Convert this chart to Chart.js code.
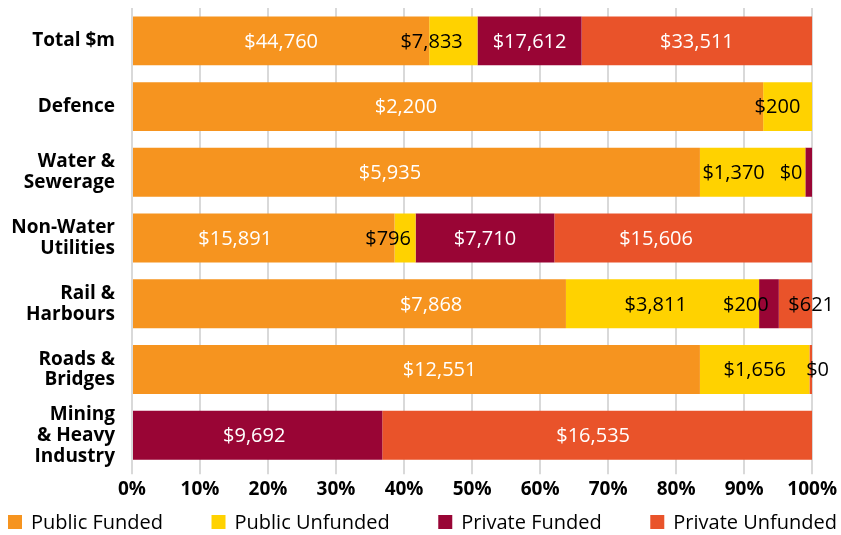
<!DOCTYPE html>
<html>
<head>
<meta charset="utf-8">
<script src="https://cdn.jsdelivr.net/npm/chart.js@4"></script>
<style>
  html, body { margin: 0; padding: 0; background: #fff; }
  #wrap { width: 841px; height: 535px; }
</style>
</head>
<body>
<div id="wrap"><canvas id="myChart" width="841" height="535"></canvas></div>
<script>
// categorias (multilinea como en el original)
const categories = [
    ['Total $m'],
    ['Defence'],
    ['Water &', 'Sewerage'],
    ['Non-Water', 'Utilities'],
    ['Rail &', 'Harbours'],
    ['Roads &', 'Bridges'],
    ['Mining', '& Heavy', 'Industry'],
]
const seriesNames = ['Public Funded', 'Public Unfunded', 'Private Funded', 'Private Unfunded']

// porcentaje de cada barra
const publicFunded    = [43.7, 92.8, 83.5, 38.6, 63.8, 83.5, 0]
const publicUnfunded  = [7.1, 7.2, 15.5, 3.1, 28.4, 16.1, 0]
const privateFunded   = [15.3, 0, 1.0, 20.4, 2.9, 0, 36.8]
const privateUnfunded = [33.9, 0, 0, 37.9, 4.9, 0.4, 63.2]

// etiquetas en dolares ($m)
const publicFundedLabels    = ['$44,760', '$2,200', '$5,935', '$15,891', '$7,868', '$12,551', null]
const publicUnfundedLabels  = ['$7,833', '$200', '$1,370', '$796', '$3,811', '$1,656', null]
const privateFundedLabels   = ['$17,612', null, '$0', '$7,710', '$200', null, '$9,692']
const privateUnfundedLabels = ['$33,511', null, null, '$15,606', '$621', '$0', '$16,535']

const xTicks = [0, 10, 20, 30, 40, 50, 60, 70, 80, 90, 100]

// desplazamiento de las etiquetas (en % del eje) respecto al centro del segmento
const labelShift = [
    [0, -6.2, -3.9, -4.2, 12, 3.4, 0],
    [-3.2, -1.5, -2.8, -2.5, -1, 0, 0],
    [0, 0, -2.6, 0, -3.4, 0, -0.5],
    [0, 0, 0, -4, 2.3, 1, -0.6],
]

const colors = ['#F6941F', '#FFD200', '#990535', '#E9532A']
const FONT = "'Open Sans', 'DejaVu Sans', sans-serif"

const values = [publicFunded, publicUnfunded, privateFunded, privateUnfunded]
const labels = [publicFundedLabels, publicUnfundedLabels, privateFundedLabels, privateUnfundedLabels]

const segmentLabels = {
    id: 'segmentLabels',
    afterDatasetsDraw(chart) {
        const ctx = chart.ctx
        const xs = chart.scales.x
        const pct = xs.getPixelForValue(1) - xs.getPixelForValue(0)
        ctx.save()
        ctx.font = `20px ${FONT}`
        ctx.textAlign = 'center'
        ctx.textBaseline = 'middle'
        chart.data.datasets.forEach((ds, d) => {
            const meta = chart.getDatasetMeta(d)
            meta.data.forEach((bar, i) => {
                const txt = labels[d][i]
                if (!txt) return
                const cx = (bar.x + bar.base) / 2 + labelShift[d][i] * pct
                const small = values[d][i] < 8
                ctx.fillStyle = (d === 1 || small) ? '#000' : '#fff'
                ctx.fillText(txt, cx, bar.y + 1)
            })
        })
        ctx.restore()
    }
}

// leyenda en una fila, repartida en todo el ancho
const rowLegend = {
    id: 'rowLegend',
    afterDraw(chart) {
        const ctx = chart.ctx
        const box = 14, gapText = 9, left = 8, right = chart.width - 4
        const y = chart.height - 13
        ctx.save()
        ctx.font = `20px ${FONT}`
        ctx.textBaseline = 'middle'
        const widths = chart.data.datasets.map(ds => box + gapText + ctx.measureText(ds.label).width)
        const total = widths.reduce((a, b) => a + b, 0)
        const gap = (right - left - total) / (widths.length - 1)
        let x = left
        chart.data.datasets.forEach((ds, d) => {
            ctx.fillStyle = ds.backgroundColor
            ctx.fillRect(x, y - box / 2, box, box)
            ctx.fillStyle = '#000'
            ctx.fillText(ds.label, x + box + gapText, y + 1)
            x += widths[d] + gap
        })
        ctx.restore()
    }
}

const ctx = document.querySelector('#myChart')
new Chart(ctx, {
    type: 'bar',
    data: {
        labels: categories,
        datasets: seriesNames.map((name, d) => ({
            label: name,
            data: values[d],
            backgroundColor: colors[d],
            borderWidth: 0,
            barPercentage: 0.745,
            categoryPercentage: 1,
        })),
    },
    options: {
        indexAxis: 'y',
        responsive: false,
        animation: false,
        layout: { padding: { top: 8, left: 4, right: 0, bottom: 30 } },
        scales: {
            x: {
                stacked: true,
                min: 0,
                max: 100,
                afterBuildTicks: (axis) => { axis.ticks = xTicks.map(v => ({ value: v })) },
                grid: { color: '#d9d9d9', lineWidth: 2, tickLength: 6 },
                border: { display: false },
                ticks: {
                    callback: (v) => v + '%',
                    color: '#000',
                    font: { family: FONT, size: 19, weight: 'bold' },
                    padding: 4,
                    maxRotation: 0,
                },
            },
            y: {
                stacked: true,
                grid: { display: false },
                border: { display: false },
                afterFit: (axis) => {
                    axis.width = 128
                    axis.paddingTop = 0
                    axis.paddingBottom = 0
                },
                ticks: {
                    autoSkip: false,
                    color: '#000',
                    font: { family: FONT, size: 19, weight: 'bold', lineHeight: 1.1 },
                    padding: 9,
                },
            },
        },
        plugins: {
            legend: { display: false },
            tooltip: { enabled: false },
        },
    },
    plugins: [segmentLabels, rowLegend],
})
</script>
</body>
</html>
